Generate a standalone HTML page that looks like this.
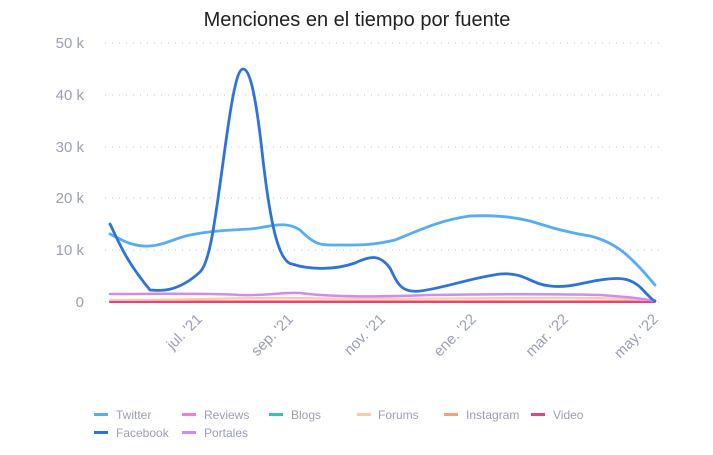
<!DOCTYPE html>
<html><head><meta charset="utf-8"><style>
body{margin:0;background:#fff;width:713px;height:450px;overflow:hidden;font-family:"Liberation Sans",sans-serif}
</style></head><body>
<svg width="713" height="450" xmlns="http://www.w3.org/2000/svg" font-family="Liberation Sans, sans-serif">
<text x="357" y="26" text-anchor="middle" font-size="20" fill="#222">Menciones en el tiempo por fuente</text>
<g stroke="#ccc" stroke-dasharray="1,6" stroke-width="1.2">
<line x1="105" y1="43" x2="660" y2="43"/><line x1="105" y1="95" x2="660" y2="95"/><line x1="105" y1="147" x2="660" y2="147"/><line x1="105" y1="198" x2="660" y2="198"/><line x1="105" y1="250" x2="660" y2="250"/><line x1="105" y1="302" x2="660" y2="302"/>
</g>
<g font-size="15" fill="#9a9fb3" text-anchor="end">
<text x="84" y="48">50 k</text><text x="84" y="100">40 k</text><text x="84" y="152">30 k</text><text x="84" y="203">20 k</text><text x="84" y="255">10 k</text><text x="84" y="307">0</text>
</g>
<g font-size="15" fill="#9a9fb3" text-anchor="end">
<text transform="translate(203,320) rotate(-45)">jul. '21</text>
<text transform="translate(294,320) rotate(-45)">sep. '21</text>
<text transform="translate(386,320) rotate(-45)">nov. '21</text>
<text transform="translate(477,320) rotate(-45)">ene. '22</text>
<text transform="translate(569,320) rotate(-45)">mar. '22</text>
<text transform="translate(659,320) rotate(-45)">may. '22</text>
</g>
<g fill="none" stroke-width="2" stroke-linejoin="round" stroke-linecap="round">
<path stroke="#f7a072" d="M110,301 L655,301"/>
<path stroke="#ffc9a8" d="M110,300 C200,300 250,297 300,298 C400,300 500,297 600,298 L655,300"/>
<path stroke="#e83e8c" d="M110,302 L655,302"/>
<path stroke="#d08af5" stroke-width="2.5" d="M110,294 C160,294 200,293 240,295 C270,296 280,292 300,293 C330,297 380,297 430,295 C500,294 560,294 600,295 C630,297 645,299 655,301"/>
<path stroke="#56acf5" stroke-width="2.8" d="M110,234 C125,242 135,247 150,246 C165,245 175,238 190,235 C210,231 230,230 250,229 C270,227 285,220 300,230 C315,245 320,245 335,245 C355,245 370,246 395,240 C420,230 440,220 470,216 C490,215 510,216 530,221 C550,227 565,232 590,236 C615,242 630,255 655,285"/>
<path stroke="#2e73db" stroke-width="2.8" d="M110,224 C118,240 125,260 150,290 C162,291 178,292 200,272 C210,262 215,220 222,170 C230,110 236,69 243,69 C250,69 256,95 263,160 C270,220 278,262 292,264 C310,270 335,270 355,263 C372,255 380,255 390,268 C398,285 402,293 420,291 C445,288 470,278 500,274 C525,272 530,284 550,286 C570,288 580,283 600,280 C620,277 630,278 640,287 C648,295 652,300 655,301"/>
</g>
<g font-size="12" fill="#9a9fb3">
<rect x="94" y="413" width="14" height="3" fill="#56acf5"/><text x="116" y="419">Twitter</text>
<rect x="94" y="431" width="14" height="3" fill="#2e73db"/><text x="116" y="437">Facebook</text>
<rect x="182" y="413" width="14" height="3" fill="#f77ad8"/><text x="204" y="419">Reviews</text>
<rect x="182" y="431" width="14" height="3" fill="#d08af5"/><text x="204" y="437">Portales</text>
<rect x="269" y="413" width="14" height="3" fill="#2ec8b0"/><text x="291" y="419">Blogs</text>
<rect x="357" y="413" width="14" height="3" fill="#ffc9a8"/><text x="378" y="419">Forums</text>
<rect x="444" y="413" width="14" height="3" fill="#f7a072"/><text x="466" y="419">Instagram</text>
<rect x="531" y="413" width="14" height="3" fill="#e83e8c"/><text x="553" y="419">Video</text>
</g>
</svg>
</body></html>
